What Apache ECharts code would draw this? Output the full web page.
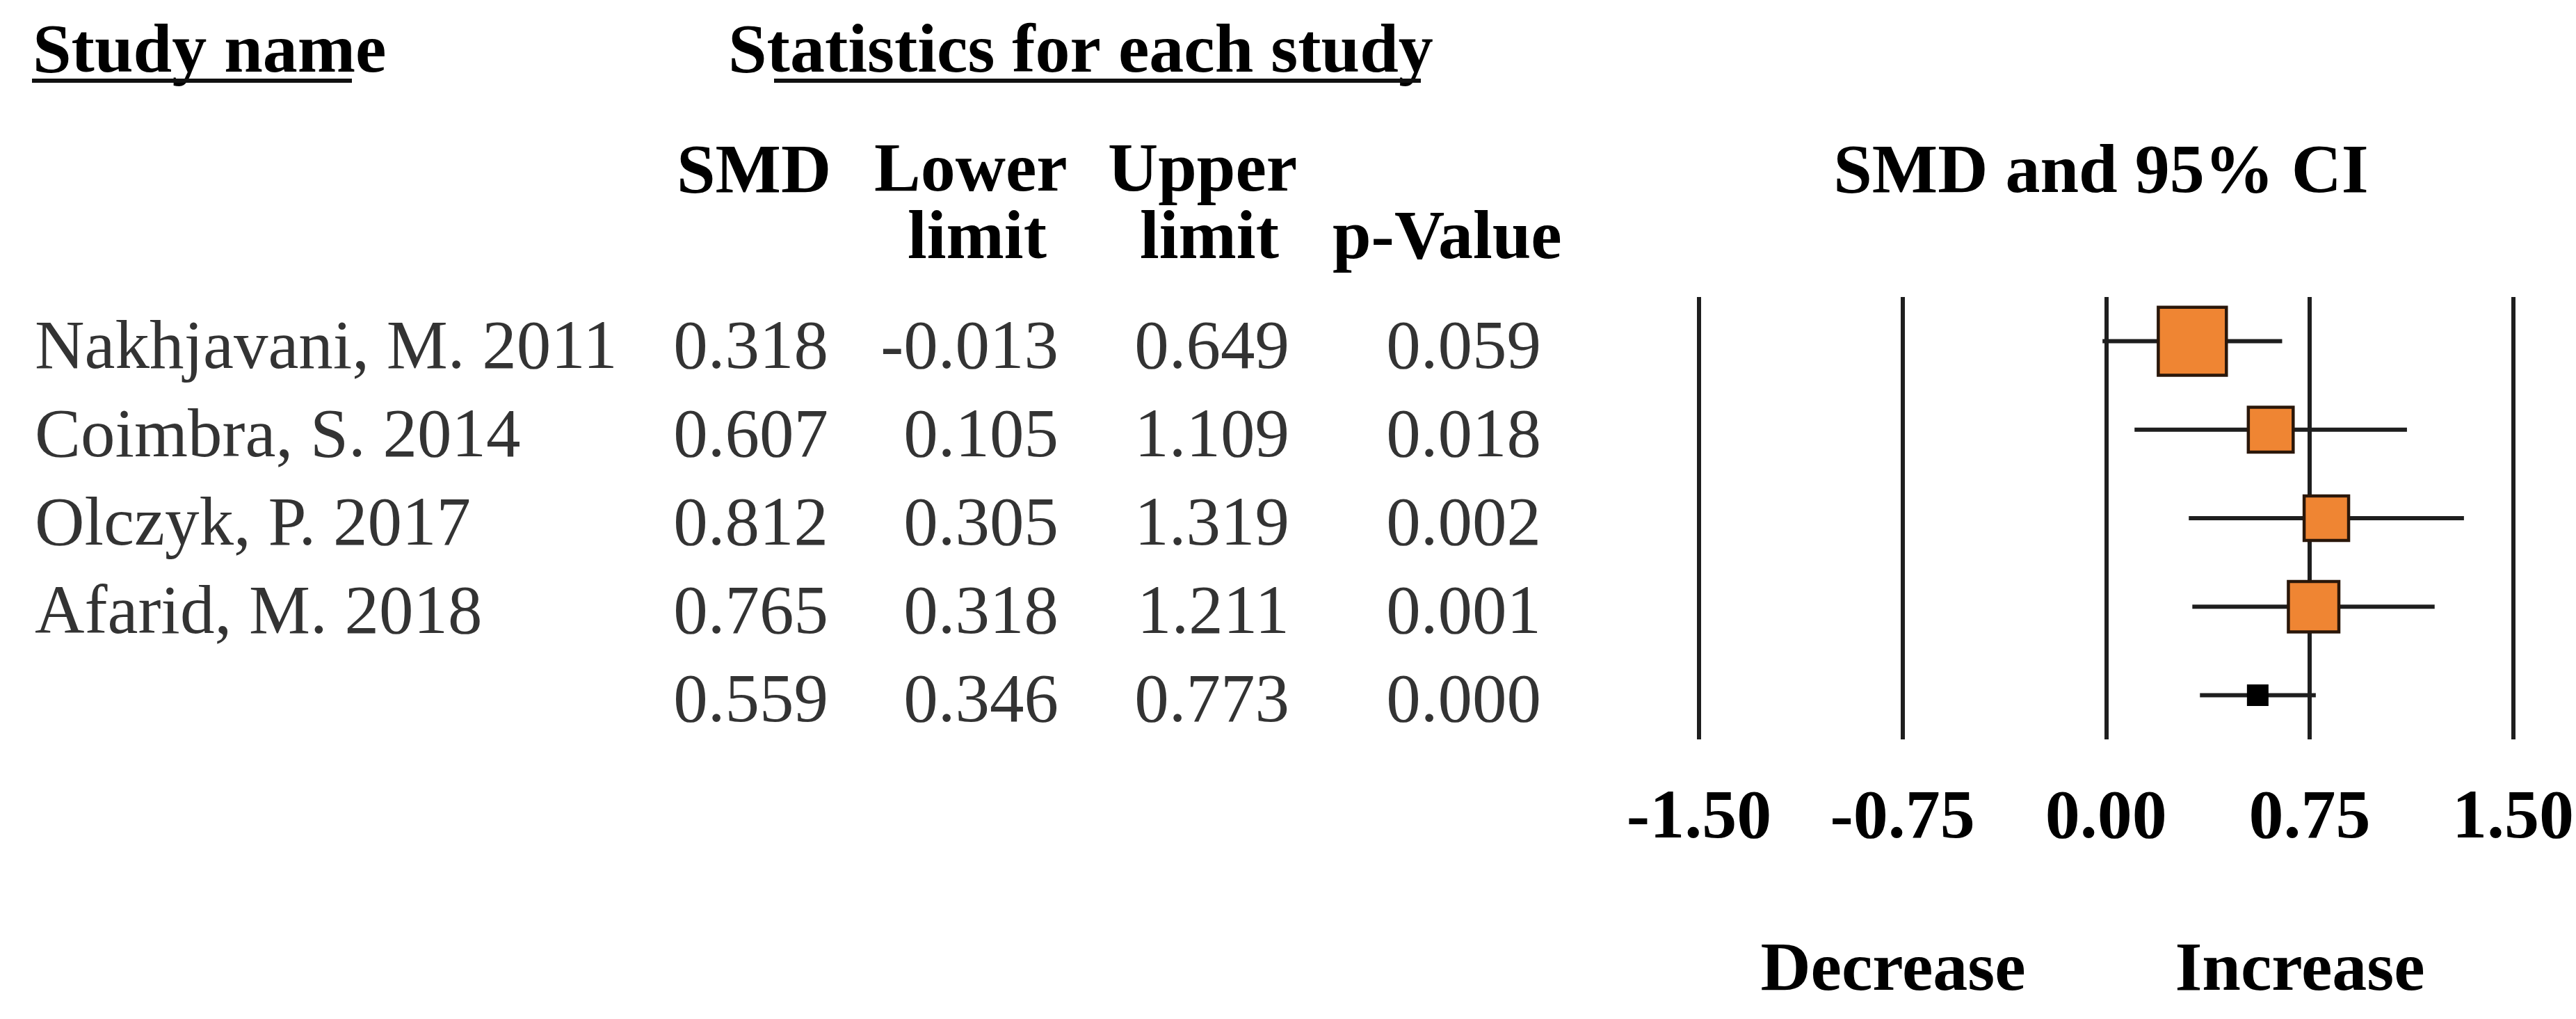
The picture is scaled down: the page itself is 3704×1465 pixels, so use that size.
<!DOCTYPE html>
<html>
<head>
<meta charset="utf-8">
<script src="https://cdn.jsdelivr.net/npm/echarts@6/dist/echarts.min.js"></script>
<style>
html,body{margin:0;padding:0;background:#fff;}
#c{width:3704px;height:1465px;}
</style>
</head>
<body>
<div id="c"></div>
<script>
// ---------------- data ----------------
const studyNames = ['Nakhjavani, M. 2011', 'Coimbra, S. 2014', 'Olczyk, P. 2017', 'Afarid, M. 2018', ''];
const smd      = [0.318, 0.607, 0.812, 0.765, 0.559];
const lowerCI  = [-0.013, 0.105, 0.305, 0.318, 0.346];
const upperCI  = [0.649, 1.109, 1.319, 1.211, 0.773];
const pValues  = [0.059, 0.018, 0.002, 0.001, 0.000];
const weights  = [41.5, 18.0, 17.7, 22.8];          // relative weight (%) of each study
const axisMin = -1.5, axisMax = 1.5, axisStep = 0.75;
const directionLabels = ['Decrease', 'Increase'];

// ---------------- layout / style ----------------
const FONT = "'Liberation Serif', 'Times New Roman', serif";
const REG = 99, BOLD = 100;
const ROW_TOP = 427, ROW_H = 636;
const TXT_DY = 12;
const rowKeys = studyNames.map((_, i) => 'r' + i);
const COL = { name: 50, smd: 1191, lower: 1522, upper: 1854, p: 2216 };
const ORANGE = '#EF8533', EDGE = '#2a170a', INK = '#1e1e1e';

const chart = echarts.init(document.getElementById('c'), null, {renderer: 'canvas'});

function colSeries(xPos, texts, align) {
  return {
    type: 'scatter', xAxisIndex: 1, yAxisIndex: 1, symbolSize: 0, silent: true,
    data: texts.map((t, i) => ({ value: [xPos, rowKeys[i]], txt: t })),
    label: {
      show: true, position: align === 'left' ? 'right' : 'left', distance: 0,
      offset: [0, TXT_DY],
      formatter: p => p.data.txt,
      fontFamily: FONT, fontSize: REG, color: '#000'
    }
  };
}

function hText(txt, x, baseline, align) {
  return {
    type: 'text', x: x, y: baseline - 0.33 * BOLD, silent: true,
    style: { text: txt, font: 'bold ' + BOLD + 'px ' + FONT, fill: '#000',
             textAlign: align || 'left', textVerticalAlign: 'middle' }
  };
}

const fmt3 = v => v.toFixed(3);

const option = {
  backgroundColor: '#fff',
  animation: false,
  grid: [
    { left: 2443, width: 1173, top: ROW_TOP, height: ROW_H },
    { left: 0, width: 3704, top: ROW_TOP, height: ROW_H }
  ],
  xAxis: [
    { type: 'value', gridIndex: 0, min: axisMin, max: axisMax, interval: axisStep,
      axisLine: {show: false}, axisTick: {show: false},
      splitLine: { show: true, lineStyle: { color: INK, width: 6 } },
      axisLabel: { show: true, margin: 65, formatter: v => v.toFixed(2),
                   fontFamily: FONT, fontSize: BOLD, fontWeight: 'bold', color: '#000' } },
    { type: 'value', gridIndex: 1, min: 0, max: 3704, show: false }
  ],
  yAxis: [
    { type: 'category', gridIndex: 0, data: rowKeys, inverse: true, show: false },
    { type: 'category', gridIndex: 1, data: rowKeys, inverse: true, show: false }
  ],
  series: [
    {
      type: 'custom', xAxisIndex: 0, yAxisIndex: 0, silent: true,
      data: smd.map((v, i) => [lowerCI[i], upperCI[i], v, i < weights.length ? weights[i] : 0, rowKeys[i]]),
      encode: { x: [0, 1, 2], y: 4 },
      renderItem: function (params, api) {
        const row = api.value(4);
        const pLo = api.coord([api.value(0), row]);
        const pHi = api.coord([api.value(1), row]);
        const pE  = api.coord([api.value(2), row]);
        const w = api.value(3);
        const summary = !(w > 0);
        const side = summary ? 29 : 15.2 * Math.sqrt(w);
        return {
          type: 'group',
          children: [
            { type: 'line', shape: { x1: pLo[0], y1: pLo[1], x2: pHi[0], y2: pHi[1] },
              style: { stroke: INK, lineWidth: 6 } },
            { type: 'rect', shape: { x: pE[0] - side / 2, y: pE[1] - side / 2, width: side, height: side },
              style: { fill: summary ? '#000' : ORANGE, stroke: summary ? '#000' : EDGE, lineWidth: summary ? 2 : 4.5 } }
          ]
        };
      }
    },
    colSeries(COL.name, studyNames, 'left'),
    colSeries(COL.smd, smd.map(fmt3), 'right'),
    colSeries(COL.lower, lowerCI.map(fmt3), 'right'),
    colSeries(COL.upper, upperCI.map(fmt3), 'right'),
    colSeries(COL.p, pValues.map(fmt3), 'right')
  ],
  graphic: [
    hText('Study name', 47, 110),
    { type: 'line', silent: true, shape: { x1: 46, y1: 116, x2: 506, y2: 116 }, style: { stroke: '#111', lineWidth: 6 } },
    hText('Statistics for each study', 1047, 110),
    { type: 'line', silent: true, shape: { x1: 1113, y1: 116, x2: 2043, y2: 116 }, style: { stroke: '#111', lineWidth: 6 } },
    hText('SMD', 973, 283),
    hText('Lower', 1257, 281),
    hText('limit', 1305, 378),
    hText('Upper', 1593, 281),
    hText('limit', 1639, 378),
    hText('p-Value', 1916, 378),
    hText('SMD and 95% CI', 3021, 283, 'center'),
    hText(directionLabels[0], 2722, 1430, 'center'),
    hText(directionLabels[1], 3307, 1430, 'center')
  ]
};

chart.setOption(option);
</script>
</body>
</html>
